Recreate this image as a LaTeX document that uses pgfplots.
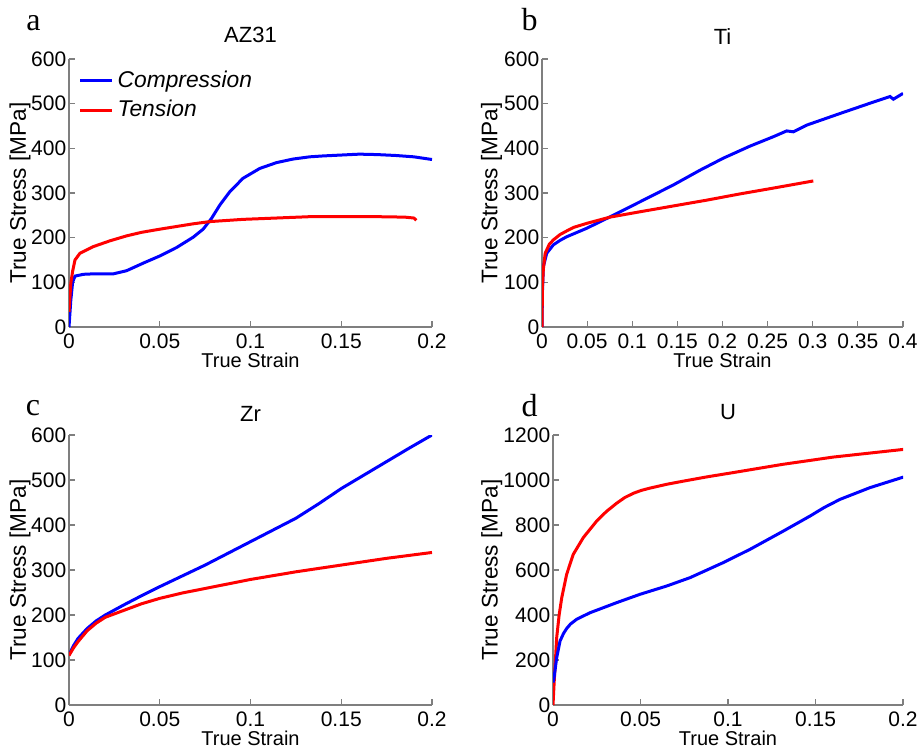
\documentclass[border=0pt]{standalone}
\usepackage{fontspec}
\setmainfont{Liberation Sans}
\newfontfamily\letterfont{Liberation Serif}
\usepackage{pgfplots}
\pgfplotsset{compat=1.18}
\definecolor{axgray}{HTML}{7F7F7F}
\definecolor{mblue}{HTML}{0000FF}
\definecolor{mred}{HTML}{FF0000}

\pgfplotsset{
  panel/.style={
    scale only axis,
    axis lines=left,
    axis line style={-,draw=axgray,line width=0.6pt},
    tick align=inside,
    major tick length=3pt,
    tick style={axgray,line width=0.6pt},
    hide obscured x ticks=false,
    hide obscured y ticks=false,
    xmin=0, ymin=0,
    xlabel={True Strain},
    ylabel={True Stress [MPa]},
    tick label style={font=\fontsize{10.5}{12}\selectfont},
    xticklabel style={inner sep=0.5pt,yshift=-2.5pt},
    yticklabel style={inner sep=1.2pt},
    xlabel style={font=\fontsize{10}{12}\selectfont,inner sep=0pt,at={(axis description cs:0.5,-0.124)},anchor=center},
    ylabel style={font=\fontsize{11.3}{13}\selectfont,inner sep=0pt},
    title style={font=\fontsize{11}{13}\selectfont},
    scaled x ticks=false,
    xticklabel style={/pgf/number format/fixed,/pgf/number format/precision=2},
    /pgf/number format/1000 sep={},
    /pgf/number format/assume math mode=true,
    every axis plot/.append style={line width=1.5pt},
  }
}

\begin{document}
\begin{tikzpicture}
\useasboundingbox (0,0) rectangle (459.5pt,376pt);

% a: AZ31
\begin{axis}[panel, at={(34.5pt,212.5pt)}, anchor=south west,
  width=181.5pt, height=134pt,
  xmax=0.2, ymax=600, xtick={0,0.05,0.1,0.15,0.2}, ytick={0,100,...,600},
  title={AZ31}, title style={yshift=-1.5pt},
  ylabel style={at={(axis description cs:-0.135,0.5)},anchor=center},
  legend style={draw=none,fill=none,at={(axis description cs:0.02,0.98)},anchor=north west,
    font=\fontsize{11.4}{13.5}\selectfont\itshape,row sep=1pt,inner sep=1pt},
  legend cell align=left,
  legend image code/.code={\draw[#1] (0pt,0pt) -- (16pt,0pt);}]
\addplot[mblue] coordinates {(0,0) (0.001,60) (0.002,100) (0.0033,114) (0.008,118) (0.0134,119) (0.0244,119) (0.0317,126) (0.0409,143) (0.05,159) (0.0593,178) (0.0684,201) (0.0739,219) (0.0785,243) (0.0831,273) (0.0886,303) (0.0959,333) (0.1051,355) (0.1143,368) (0.1234,376) (0.1326,381) (0.14,383) (0.15,385) (0.16,387) (0.17,386) (0.18,384) (0.19,381) (0.2,375)};
\addlegendentry{Compression}
\addplot[mred] coordinates {(0,34) (0.001,98) (0.002,125) (0.0033,150) (0.006,165) (0.0134,180) (0.0226,193) (0.0317,204) (0.04,212) (0.05,219) (0.0684,231) (0.0776,236) (0.0959,241) (0.1143,244) (0.1326,247) (0.15,247) (0.17,247) (0.185,246) (0.19,244) (0.1914,239)};
\addlegendentry{Tension}
\end{axis}

% b: Ti
\begin{axis}[panel, at={(271pt,212.5pt)}, anchor=south west,
  width=180.5pt, height=134pt,
  xmax=0.4, ymax=600, xtick={0,0.05,...,0.4}, ytick={0,100,...,600},
  title={Ti}, title style={yshift=-2.5pt},
  ylabel style={at={(axis description cs:-0.14,0.5)},anchor=center}]
\addplot[mblue] coordinates {(0,0) (0.0005,80) (0.0015,135) (0.0052,165) (0.0126,184) (0.02,194) (0.0273,202) (0.0495,221) (0.0717,243) (0.0975,269) (0.1455,318) (0.175,351) (0.2009,378) (0.2305,405) (0.2563,426) (0.2711,439) (0.2785,437) (0.2933,452) (0.3302,478) (0.3634,501) (0.3856,516) (0.3893,510) (0.4,523)};
\addplot[mred] coordinates {(0,0) (0.0005,90) (0.0015,130) (0.0035,165) (0.008,185) (0.0126,195) (0.02,207) (0.0273,215) (0.035,223) (0.0495,232) (0.0753,246) (0.1086,258) (0.1455,271) (0.1825,284) (0.2194,298) (0.2563,311) (0.3006,327)};
\end{axis}

% c: Zr
\begin{axis}[panel, at={(34.5pt,23.5pt)}, anchor=south west,
  width=181.5pt, height=135pt,
  xmax=0.2, ymax=600, xtick={0,0.05,0.1,0.15,0.2}, ytick={0,100,...,600},
  title={Zr}, title style={yshift=-3pt},
  ylabel style={at={(axis description cs:-0.135,0.5)},anchor=center}]
\addplot[mblue] coordinates {(0,111) (0.0025,132) (0.005,148) (0.01,170) (0.015,187) (0.02,200) (0.03,222) (0.04,243) (0.05,263) (0.0625,287) (0.075,311) (0.0875,337) (0.1,363) (0.1125,389) (0.125,415) (0.1375,447) (0.15,481) (0.1625,511) (0.175,541) (0.1875,571) (0.2,600)};
\addplot[mred] coordinates {(0,110) (0.0025,127) (0.005,141) (0.01,165) (0.015,182) (0.02,195) (0.03,210) (0.04,225) (0.05,237) (0.0625,249) (0.075,259) (0.0875,269) (0.1,279) (0.125,296) (0.15,311) (0.175,326) (0.2,339)};
\end{axis}

% d: U
\begin{axis}[panel, at={(276.5pt,23.5pt)}, anchor=south west,
  width=175pt, height=135pt,
  xmax=0.2, ymax=1200, xtick={0,0.05,0.1,0.15,0.2}, ytick={0,200,...,1200},
  title={U}, title style={yshift=-2pt},
  ylabel style={at={(axis description cs:-0.175,0.5)},anchor=center}]
\addplot[mred] coordinates {(0,0) (0.0006,92) (0.0021,299) (0.0035,400) (0.005,477) (0.0078,581) (0.0116,670) (0.0173,744) (0.025,818) (0.0305,860) (0.0364,897) (0.041,922) (0.0459,941) (0.0505,954) (0.0554,964) (0.065,981) (0.0745,995) (0.088,1014) (0.103,1033) (0.1316,1070) (0.1602,1102) (0.2002,1136)};
\addplot[mblue] coordinates {(0,100) (0.0006,121) (0.0021,210) (0.004,284) (0.006,318) (0.0078,340) (0.01,360) (0.0135,381) (0.0211,410) (0.0364,455) (0.0497,492) (0.065,529) (0.0783,566) (0.0973,633) (0.1126,692) (0.1316,773) (0.1469,840) (0.155,878) (0.164,914) (0.1811,966) (0.2002,1013)};
\end{axis}

\node[font=\letterfont\fontsize{16}{18}\selectfont,inner sep=0pt] at (16.75pt,364.5pt) {a};
\node[font=\letterfont\fontsize{16}{18}\selectfont,inner sep=0pt] at (264.75pt,366pt) {b};
\node[font=\letterfont\fontsize{16}{18}\selectfont,inner sep=0pt] at (16.5pt,171.75pt) {c};
\node[font=\letterfont\fontsize{16}{18}\selectfont,inner sep=0pt] at (264.75pt,173pt) {d};
\end{tikzpicture}
\end{document}
